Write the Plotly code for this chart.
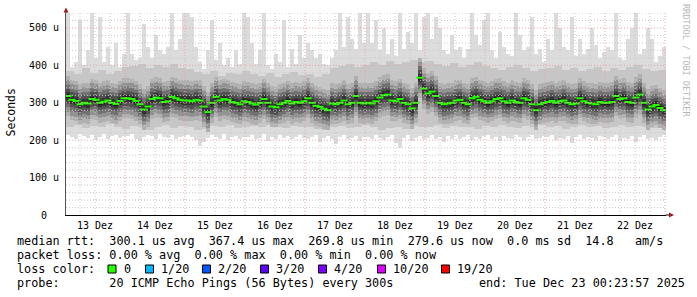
import pandas as pd
import plotly.graph_objects as go

# ---------------- data ----------------
START = "2025-12-13 00:23:57"
END = "2025-12-23 00:23:57"
STEP_MIN = 96  # one bin = 96 minutes (4 px in the reference)

median_us = [
    318, 308, 305, 296, 300, 298, 310, 308, 300, 303, 306, 300, 297, 305, 312,
    312, 310, 305, 296, 282, 290, 310, 314, 312, 302, 304, 316, 312, 308, 306,
    306, 304, 308, 306, 290, 275, 300, 316, 306, 310, 308, 302, 300, 296, 304,
    302, 298, 295, 300, 310, 300, 290, 288, 296, 300, 305, 298, 302, 300, 304,
    312, 300, 292, 289, 284, 280, 298, 296, 300, 306, 296, 300, 318, 300, 298,
    300, 298, 304, 314, 320, 322, 306, 304, 310, 300, 296, 285, 300, 367, 338,
    325, 330, 318, 300, 296, 298, 300, 306, 308, 300, 296, 312, 316, 308, 304,
    300, 304, 310, 312, 304, 300, 306, 302, 300, 312, 308, 296, 280, 296, 300,
    302, 305, 300, 304, 306, 300, 296, 298, 312, 304, 300, 298, 296, 302, 300,
    300, 302, 318, 310, 312, 302, 300, 314, 322, 300, 282, 290, 294, 286, 280,
]

max_us = [
    540, 395, 410, 520, 400, 440, 540, 420, 530, 410, 450, 400, 460, 395, 430,
    540, 430, 415, 420, 510, 450, 420, 480, 440, 430, 450, 540, 440, 470, 540,
    540, 530, 450, 410, 390, 440, 520, 415, 460, 400, 420, 395, 440, 405, 540,
    530, 460, 405, 440, 540, 400, 390, 430, 410, 520, 395, 445, 405, 480, 420,
    460, 440, 420, 430, 405, 400, 420, 440, 540, 450, 530, 470, 445, 540, 460,
    540, 460, 520, 440, 500, 430, 470, 425, 540, 445, 490, 460, 540, 440, 530,
    540, 470, 530, 500, 440, 430, 480, 440, 450, 420, 445, 540, 480, 455, 520,
    540, 440, 420, 490, 450, 430, 425, 540, 480, 440, 450, 530, 430, 445, 410,
    470, 440, 540, 500, 450, 440, 530, 425, 470, 430, 445, 500, 455, 420, 435,
    450, 440, 540, 420, 415, 470, 500, 540, 430, 445, 500, 470, 410, 425, 450,
]

min_us = [
    214, 208, 204, 216, 210, 206, 214, 200, 208, 216, 204, 210, 214, 206, 212,
    210, 216, 204, 198, 208, 214, 210, 204, 216, 208, 206, 214, 202, 208, 212,
    214, 208, 200, 184, 196, 206, 214, 208, 202, 216, 200, 208, 212, 202, 208,
    208, 214, 202, 206, 216, 198, 208, 202, 214, 206, 210, 202, 208, 214, 206,
    202, 208, 214, 196, 206, 210, 202, 190, 208, 214, 202, 206, 210, 198, 208,
    208, 202, 214, 206, 200, 208, 214, 192, 178, 206, 214, 198, 206, 210, 202,
    206, 214, 202, 208, 196, 210, 204, 214, 202, 208, 214, 200, 208, 204, 210,
    214, 202, 208, 198, 210, 206, 202, 214, 208, 200, 208, 214, 202, 206, 210,
    208, 214, 200, 206, 202, 210, 192, 208, 214, 202, 208, 206, 200, 210, 208,
    202, 208, 214, 198, 206, 202, 210, 196, 208, 214, 202, 206, 200, 208, 214,
]

# inner smoke band, coarser bins (2 x 96 min)
hi2_us = [
    385, 378, 392, 380, 388, 376, 384, 395,
    398, 405, 392, 402, 396, 404, 392,
    390, 382, 376, 385, 372, 380, 376, 384,
    378, 372, 380, 370, 376, 382, 374,
    376, 370, 378, 392, 398, 404, 396, 402,
    408, 402, 412, 404, 410, 415, 408,
    412, 404, 398, 406, 396, 402, 408, 398,
    394, 388, 396, 400, 392, 386, 390,
    392, 398, 388, 394, 384, 390, 396, 386,
    394, 388, 396, 402, 390, 384, 388,
]
lo2_us = [
    236, 240, 232, 238, 234, 242, 236, 230,
    238, 234, 228, 236, 240, 232, 238,
    234, 226, 230, 238, 236, 240, 232, 236,
    238, 234, 240, 236, 232, 238, 234,
    236, 230, 228, 234, 238, 232, 236, 240,
    234, 228, 232, 236, 230, 238, 234,
    236, 240, 232, 238, 234, 236, 230, 238,
    236, 240, 234, 232, 238, 236, 240,
    234, 238, 230, 236, 240, 234, 238, 232,
    236, 240, 234, 238, 236, 232, 238,
]

day_labels = ["13 Dez", "14 Dez", "15 Dez", "16 Dez", "17 Dez",
              "18 Dez", "19 Dez", "20 Dez", "21 Dez", "22 Dez"]
day_noons = ["2025-12-13 12:00", "2025-12-14 12:00", "2025-12-15 12:00",
             "2025-12-16 12:00", "2025-12-17 12:00", "2025-12-18 12:00",
             "2025-12-19 12:00", "2025-12-20 12:00", "2025-12-21 12:00",
             "2025-12-22 12:00"]
y_ticks = [0, 100, 200, 300, 400, 500]
y_tick_text = ["0\u00a0\u00a0", "100 u", "200 u", "300 u", "400 u", "500 u"]

loss_labels = ["0", "1/20", "2/20", "3/20", "4/20", "10/20", "19/20"]
loss_colors = ["#26ff00", "#00b8ff", "#0059ff", "#5e00ff", "#7e00ff", "#dd00ff", "#ff0000"]

legend_line1 = "median rtt:  300.1 us avg  367.4 us max  269.8 us min  279.6 us now  0.0 ms sd  14.8   am/s"
legend_line2 = "packet loss: 0.00 % avg  0.00 % max  0.00 % min  0.00 % now"
legend_line3 = "loss color:"
legend_line4 = "probe:       20 ICMP Echo Pings (56 Bytes) every 300s"
legend_end = "end: Tue Dec 23 00:23:57 2025"

# ---------------- figure ----------------
W, H = 697, 297
L, R, T, B = 66, 31, 13, 82
PW, PH = W - L - R, H - T - B
MONO = "DejaVu Sans Mono"


def px(x):
    return (x - L) / PW


def py(y):
    return (T + PH - y) / PH


def nb(s):
    return s.replace(" ", "\u00a0")


t0 = pd.Timestamp(START)
x_fine = [t0 + pd.Timedelta(minutes=STEP_MIN * (i + 0.5)) for i in range(len(median_us))]
x_coarse = [t0 + pd.Timedelta(minutes=2 * STEP_MIN * (i + 0.5)) for i in range(len(hi2_us))]
BIN_MS = STEP_MIN * 60000

fig = go.Figure()

# outer smoke: min .. max
fig.add_trace(go.Bar(
    x=x_fine, base=min_us, y=[a - b for a, b in zip(max_us, min_us)],
    width=BIN_MS, marker=dict(color="#dcdcdc", line=dict(width=0)),
    hoverinfo="skip", showlegend=False))
# inner smoke band
fig.add_trace(go.Bar(
    x=x_coarse, base=lo2_us, y=[a - b for a, b in zip(hi2_us, lo2_us)],
    width=2 * BIN_MS, marker=dict(color="#c6c6c6", line=dict(width=0)),
    hoverinfo="skip", showlegend=False))
# darker smoke shades around the median (shade half-widths are styling)
for half, col in [(54, "#b0b0b0"), (42, "#929292"), (30, "#717171"), (20, "#515151"), (11, "#343434"), (5, "#1e1e1e")]:
    fig.add_trace(go.Bar(
        x=x_fine, base=[m - half for m in median_us], y=[2 * half] * len(median_us),
        width=BIN_MS, marker=dict(color=col, line=dict(width=0)),
        hoverinfo="skip", showlegend=False))
# median (0 loss -> green)
fig.add_trace(go.Scatter(
    x=x_fine, y=median_us, mode="markers",
    marker=dict(symbol="line-ew", size=5, line=dict(color="#26ff00", width=2)),
    hoverinfo="skip", showlegend=False))

# grid lines (drawn above the smoke like rrdtool)
shapes = []
dot = "1px,2px"
for t in pd.date_range("2025-12-13 06:00", "2025-12-23 00:00", freq="6h"):
    major = (t.hour == 0)
    shapes.append(dict(type="line", xref="x", yref="paper", x0=t, x1=t, y0=0, y1=1,
                       line=dict(color="#e6a4a4" if major else "#c8c8c8", width=1, dash=dot),
                       layer="above"))
for v in range(20, 541, 20):
    major = (v % 100 == 0)
    shapes.append(dict(type="line", xref="paper", yref="y", x0=0, x1=1, y0=v, y1=v,
                       line=dict(color="#e6a4a4" if major else "#c8c8c8", width=1, dash=dot),
                       layer="above"))
# axis extensions and arrows
shapes.append(dict(type="line", xref="paper", yref="paper", x0=px(666), x1=px(669),
                   y0=0, y1=0, line=dict(color="#000000", width=1), layer="above"))
shapes.append(dict(type="line", xref="paper", yref="paper", x0=px(66), x1=px(66),
                   y0=1, y1=py(11), line=dict(color="#555555", width=1), layer="above"))
shapes.append(dict(type="path", xref="paper", yref="paper",
                   path=f"M {px(63.5)} {py(12.5)} L {px(68.5)} {py(12.5)} L {px(66)} {py(7.5)} Z",
                   fillcolor="#9b1b1b", line=dict(width=0), layer="above"))
shapes.append(dict(type="path", xref="paper", yref="paper",
                   path=f"M {px(669)} {py(212.5)} L {px(669)} {py(217.5)} L {px(674)} {py(215)} Z",
                   fillcolor="#9b1b1b", line=dict(width=0), layer="above"))

# legend boxes (loss colours)
box_x = [108, 145.5, 202.5, 260.5, 318.5, 377.5, 441.5]
annotations = []
for bx, col, lab in zip(box_x, loss_colors, loss_labels):
    shapes.append(dict(type="rect", xref="paper", yref="paper",
                       x0=px(bx), x1=px(bx + 8), y0=py(273), y1=py(265),
                       fillcolor=col, line=dict(color="#000000", width=1), layer="above"))
    annotations.append(dict(x=px(bx + 14.5), y=py(269), xref="paper", yref="paper",
                            text=nb(lab), showarrow=False, xanchor="left", yanchor="middle",
                            borderpad=0, font=dict(family=MONO, size=11.8, color="#000000")))

for txt, yy in [(legend_line1, 241), (legend_line2, 255), (legend_line3, 269), (legend_line4, 283)]:
    annotations.append(dict(x=px(16), y=py(yy), xref="paper", yref="paper",
                            text=nb(txt), showarrow=False, xanchor="left", yanchor="middle",
                            borderpad=0, font=dict(family=MONO, size=11.8, color="#000000")))
annotations.append(dict(x=px(478), y=py(283), xref="paper", yref="paper",
                        text=nb(legend_end), showarrow=False, xanchor="left", yanchor="middle",
                        borderpad=0, font=dict(family=MONO, size=11.8, color="#000000")))
# y title
annotations.append(dict(x=px(10.5), y=py(113), xref="paper", yref="paper",
                        text="Seconds", textangle=-90, showarrow=False,
                        xanchor="center", yanchor="middle", borderpad=0,
                        font=dict(family=MONO, size=11.5, color="#000000")))
# rrdtool watermark
annotations.append(dict(x=px(686), y=py(60), xref="paper", yref="paper",
                        text=nb("RRDTOOL / TOBI OETIKER"), textangle=90, showarrow=False,
                        xanchor="center", yanchor="middle", borderpad=0,
                        font=dict(family=MONO, size=8.5, color="#b8b8b8")))

fig.update_layout(
    width=W, height=H,
    margin=dict(l=L, r=R, t=T, b=B, autoexpand=False),
    paper_bgcolor="#ffffff", plot_bgcolor="#ffffff",
    barmode="overlay", bargap=0, showlegend=False,
    shapes=shapes, annotations=annotations,
    xaxis=dict(type="date", range=[START, END], tickmode="array",
               tickvals=day_noons, ticktext=day_labels, showgrid=False, zeroline=False,
               showline=True, linecolor="#000000", linewidth=1, ticks="",
               ticklabelstandoff=1, automargin=False,
               tickfont=dict(family=MONO, size=10, color="#000000")),
    yaxis=dict(range=[0, 540], tickmode="array", tickvals=y_ticks, ticktext=y_tick_text,
               showgrid=False, zeroline=False, showline=True, linecolor="#555555",
               linewidth=1, ticks="", ticklabelstandoff=4, automargin=False,
               tickfont=dict(family=MONO, size=10, color="#000000")),
)

fig.write_html("out.html", config={"displayModeBar": False})
